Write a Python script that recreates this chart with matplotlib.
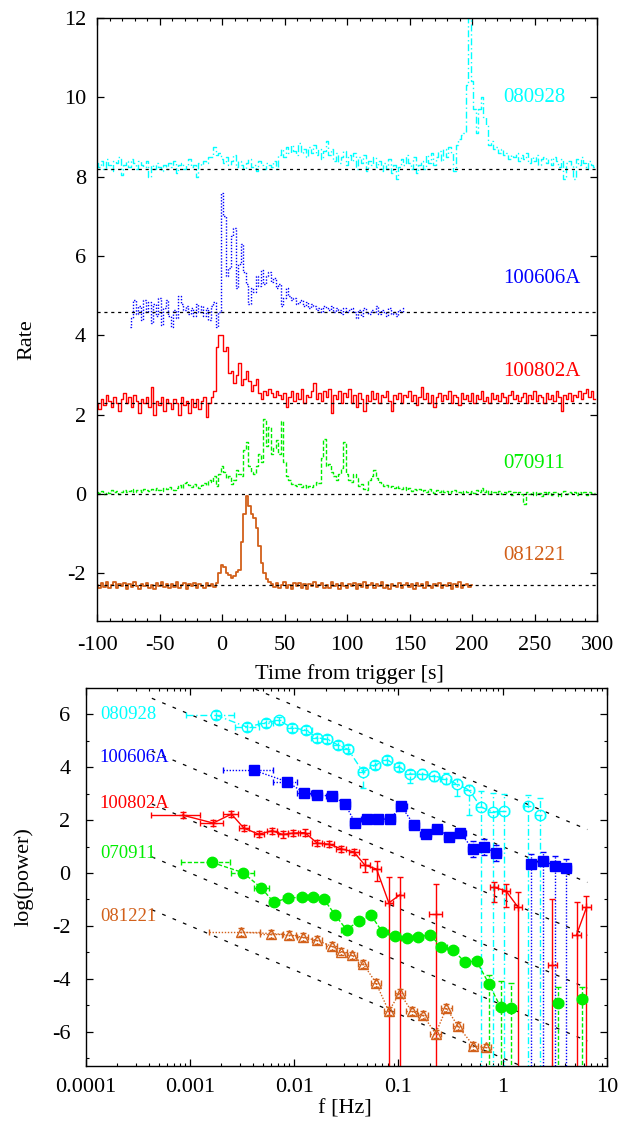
import numpy as np
import matplotlib
matplotlib.use("Agg")
import matplotlib.pyplot as plt
from matplotlib.ticker import MultipleLocator, FixedLocator, FixedFormatter, LogLocator, NullFormatter

plt.rcParams['font.family'] = ['Liberation Serif', 'DejaVu Serif']
plt.rcParams['axes.unicode_minus'] = False
plt.rcParams['font.size'] = 16
plt.rcParams['axes.linewidth'] = 1.0

# ================= light curves (rate vs time, 2 s bins) =================
grb_names = ["080928", "100606A", "100802A", "070911", "081221"]
grb_colors = ["#00ffff", "#0000ff", "#ff0000", "#00ee00", "#d2601a"]
baselines = [8.2, 4.6, 2.3, 0.0, -2.3]
label_y_top = [10.0, 5.43, 3.1, 0.78, -1.56]

t0_080928 = -100
rate_080928 = [
    8.35, 8.25, 8.4, 8.2, 8.45, 8.3, 8.15, 8.4, 8.35, 8.5,
    8.05, 8.3, 8.4, 8.25, 8.45, 8.35, 8.2, 8.4, 8.3, 8.25,
    8.4, 8.0, 8.3, 8.2, 8.35, 8.25, 8.15, 8.3, 8.2, 8.35,
    8.25, 8.4, 8.1, 8.3, 8.35, 8.2, 8.3, 8.45, 8.25, 8.3,
    8.0, 8.35, 8.3, 8.4, 8.35, 8.5, 8.5, 8.75, 8.55, 8.6,
    8.45, 8.35, 8.5, 8.3, 8.4, 8.55, 8.25, 8.4, 8.3, 8.2,
    8.35, 8.45, 8.25, 8.3, 8.15, 8.4, 8.3, 8.2, 8.35, 8.3,
    8.25, 8.4, 8.2, 8.55, 8.7, 8.5, 8.75, 8.6, 8.8, 8.65,
    8.55, 8.85, 8.6, 8.7, 8.5, 8.75, 8.6, 8.8, 8.55, 8.7,
    8.45, 8.65, 8.9, 8.55, 8.7, 8.4, 8.6, 8.35, 8.5, 8.65,
    8.3, 8.55, 8.4, 8.6, 8.2, 8.5, 8.35, 8.55, 8.15, 8.4,
    8.3, 8.5, 8.25, 8.4, 8.15, 8.35, 8.2, 8.45, 8.1, 8.3,
    7.95, 8.25, 8.45, 8.3, 8.55, 8.35, 8.2, 8.5, 8.1, 8.3,
    8.4, 8.2, 8.55, 8.35, 8.6, 8.3, 8.5, 8.65, 8.4, 8.7,
    8.5, 8.75, 8.6, 8.15, 8.8, 8.95, 9.05, 9.1, 10.3, 12.0,
    10.4, 9.7, 9.1, 9.7, 10.0, 9.5, 9.3, 8.8, 8.9, 8.7,
    8.75, 8.6, 8.7, 8.55, 8.6, 8.45, 8.55, 8.5, 8.6, 8.4,
    8.55, 8.45, 8.6, 8.35, 8.5, 8.4, 8.55, 8.3, 8.45, 8.5,
    8.35, 8.45, 8.3, 8.5, 8.4, 8.25, 8.45, 7.95, 8.35, 8.4,
    8.3, 7.95, 8.45, 8.3, 8.5, 8.35, 8.2, 8.4, 8.3, 8.25,
]

t0_100606A = -74
rate_100606A = [
    4.2, 4.45, 4.9, 4.55, 4.75, 4.4, 4.9, 4.6, 4.85, 4.3,
    4.8, 4.5, 4.95, 4.25, 4.7, 4.9, 4.5, 4.2, 4.65, 4.45,
    5.0, 4.8, 4.65, 4.75, 4.55, 4.7, 4.5, 4.8, 4.6, 4.75,
    4.5, 4.7, 4.4, 4.75, 4.85, 4.2, 4.6, 7.6, 7.0, 5.5,
    5.7, 6.5, 6.7, 5.2, 5.8, 6.3, 5.6, 5.3, 4.8, 5.2,
    5.1, 5.5, 5.25, 5.65, 5.3, 5.5, 5.6, 5.35, 5.45, 5.2,
    5.3, 4.75, 4.95, 5.2, 5.0, 4.9, 4.95, 4.8, 4.85, 4.9,
    4.75, 4.85, 4.7, 4.8, 4.75, 4.65, 4.7, 4.6, 4.75, 4.7,
    4.65, 4.75, 4.6, 4.7, 4.65, 4.55, 4.7, 4.6, 4.65, 4.7,
    4.6, 4.45, 4.65, 4.5, 4.7, 4.6, 4.55, 4.65, 4.6, 4.75,
    4.55, 4.65, 4.6, 4.5, 4.7, 4.55, 4.6, 4.5, 4.65, 4.6, 4.7,
]

t0_100802A = -100
rate_100802A = [
    2.3, 2.15, 2.4, 2.25, 2.5, 2.35, 2.2, 2.45, 2.3, 2.1,
    2.4, 2.55, 2.3, 2.45, 2.2, 2.5, 2.35, 2.05, 2.4, 2.3,
    2.45, 2.2, 2.7, 2.0, 2.35, 2.25, 2.45, 2.1, 2.4, 2.3,
    2.15, 2.4, 2.3, 2.0, 2.45, 2.25, 2.35, 2.05, 2.4, 2.2,
    2.4, 2.15, 2.35, 2.45, 1.95, 2.3, 2.45, 2.6, 3.7, 4.0,
    4.0, 3.6, 3.7, 3.05, 3.1, 2.8, 3.0, 3.3, 2.75, 2.9,
    3.1, 2.85, 2.6, 2.75, 2.9, 2.55, 2.4, 2.6, 2.5, 2.65,
    2.55, 2.45, 2.6, 2.5, 2.4, 2.55, 2.2, 2.45, 2.6, 2.35,
    2.55, 2.4, 2.65, 2.3, 2.5, 2.45, 2.6, 2.8, 2.4, 2.55,
    2.35, 2.6, 2.45, 2.65, 2.05, 2.5, 2.4, 2.6, 2.3, 2.55,
    2.45, 2.65, 2.3, 2.5, 2.2, 2.55, 2.4, 2.1, 2.5, 2.35,
    2.6, 2.4, 2.55, 2.3, 2.5, 2.45, 2.6, 2.35, 2.1, 2.5,
    2.4, 2.55, 2.3, 2.5, 2.45, 2.6, 2.35, 2.5, 2.25, 2.45,
    2.7, 2.4, 2.55, 2.3, 2.5, 2.2, 2.45, 2.55, 2.35, 2.5,
    2.4, 2.6, 2.3, 2.5, 2.45, 2.25, 2.55, 2.4, 2.5, 2.35,
    2.55, 2.3, 2.5, 2.4, 2.6, 2.35, 2.45, 2.3, 2.55, 2.4,
    2.5, 2.35, 2.55, 2.45, 2.3, 2.5, 2.6, 2.4, 2.5, 2.35,
    2.45, 2.55, 2.3, 2.5, 2.4, 2.6, 2.35, 2.5, 2.45, 2.3,
    2.55, 2.4, 2.5, 2.35, 2.6, 2.45, 2.1, 2.5, 2.4, 2.55,
    2.35, 2.5, 2.45, 2.6, 2.4, 2.55, 2.65, 2.45, 2.6, 2.4,
]

t0_070911 = -100
rate_070911 = [
    0.05, 0.02, 0.08, 0.0, 0.06, 0.03, 0.09, 0.04, 0.07, 0.01,
    0.06, 0.1, 0.04, 0.08, 0.12, 0.05, 0.09, 0.11, 0.06, 0.13,
    0.1, 0.07, 0.12, 0.09, 0.15, 0.11, 0.08, 0.14, 0.12, 0.17,
    0.13, 0.1, 0.16, 0.22, 0.15, 0.28, 0.3, 0.22, 0.18, 0.25,
    0.2, 0.16, 0.24, 0.28, 0.22, 0.35, 0.3, 0.45, 0.2, 0.5,
    0.7, 0.55, 0.4, 0.45, 0.25, 0.35, 0.6, 0.5, 0.45, 1.1,
    1.3, 0.7, 0.55, 0.5, 0.7, 1.0, 0.8, 1.9, 1.2, 1.7,
    1.0, 1.15, 1.35, 1.0, 1.85, 0.8, 0.45, 0.35, 0.25, 0.22,
    0.2, 0.25, 0.18, 0.22, 0.15, 0.2, 0.18, 0.24, 0.3, 0.28,
    0.9, 1.4, 0.7, 0.75, 0.55, 0.45, 0.35, 0.5, 0.65, 1.3,
    0.5, 0.35, 0.3, 0.5, 0.4, 0.2, 0.25, 0.12, 0.1, 0.35,
    0.45, 0.6, 0.4, 0.3, 0.25, 0.2, 0.22, 0.18, 0.2, 0.15,
    0.2, 0.15, 0.12, 0.18, 0.1, 0.14, 0.08, 0.12, 0.1, 0.13,
    0.07, 0.1, 0.05, 0.12, 0.08, 0.03, 0.1, 0.06, 0.09, 0.04,
    0.08, 0.02, 0.07, 0.1, 0.04, 0.06, 0.0, 0.08, 0.05, 0.03,
    0.07, 0.02, 0.09, 0.04, 0.15, 0.06, 0.1, 0.01, 0.08, 0.05,
    0.02, 0.07, 0.0, 0.06, 0.03, 0.08, -0.02, 0.05, 0.02, 0.06,
    0.01, -0.25, 0.04, 0.0, 0.06, -0.03, 0.05, 0.02, -0.05, 0.04,
    0.0, 0.05, -0.03, 0.06, 0.02, -0.04, 0.03, 0.07, 0.0, 0.04,
    0.02, 0.06, -0.02, 0.05, 0.01, 0.04, -0.03, 0.06, 0.02, 0.03,
]

t0_081221 = -100
rate_081221 = [
    -2.3, -2.38, -2.24, -2.34, -2.22, -2.37, -2.29, -2.21, -2.36, -2.27,
    -2.33, -2.23, -2.39, -2.28, -2.35, -2.22, -2.31, -2.4, -2.26, -2.32,
    -2.24, -2.36, -2.29, -2.4, -2.25, -2.33, -2.21, -2.35, -2.28, -2.38,
    -2.27, -2.34, -2.22, -2.37, -2.3, -2.25, -2.39, -2.28, -2.33, -2.23,
    -2.36, -2.26, -2.32, -2.38, -2.24, -2.33, -2.27, -2.35, -2.25, -2.0,
    -1.8, -1.85, -1.98, -2.05, -2.12, -2.06, -1.97, -1.92, -1.2, -0.5,
    -0.05, -0.3, -0.5, -0.6, -0.85, -1.3, -1.75, -2.0, -2.15, -2.22,
    -2.26, -2.34, -2.24, -2.37, -2.29, -2.22, -2.36, -2.3, -2.39, -2.25,
    -2.33, -2.23, -2.37, -2.28, -2.4, -2.26, -2.32, -2.21, -2.35, -2.3,
    -2.24, -2.36, -2.29, -2.38, -2.22, -2.33, -2.27, -2.4, -2.25, -2.31,
    -2.37, -2.26, -2.32, -2.23, -2.39, -2.28, -2.34, -2.22, -2.36, -2.3,
    -2.25, -2.38, -2.27, -2.33, -2.21, -2.36, -2.3, -2.4, -2.26, -2.32,
    -2.35, -2.24, -2.37, -2.29, -2.23, -2.34, -2.28, -2.39, -2.25, -2.31,
    -2.27, -2.36, -2.22, -2.33, -2.38, -2.26, -2.31, -2.24, -2.37, -2.29,
    -2.32, -2.25, -2.39, -2.28, -2.34, -2.22, -2.36, -2.3, -2.27, -2.35,
    -2.3,
]
bin_width = 2.0

# ================= power spectra =================
BOT = 20.0  # error bar reaching below the frame

f_080928 = [0.00177, 0.00353, 0.00531, 0.00711, 0.00955, 0.0131, 0.0164, 0.0207, 0.0264, 0.0329,
            0.0458, 0.0594, 0.078, 0.101, 0.129, 0.169, 0.219, 0.283, 0.366, 0.476,
            0.618, 0.80, 1.03, 1.76, 2.28]
p_080928 = [5.97, 5.52, 5.69, 5.77, 5.50, 5.40, 5.12, 5.06, 4.84, 4.68,
            3.82, 4.08, 4.28, 4.02, 3.74, 3.74, 3.67, 3.57, 3.36, 3.14,
            2.50, 2.31, 2.33, 2.52, 2.19]
xlo_080928 = [0.29, 0.115, 0.07, 0.05, 0.05, 0.05, 0.05, 0.05, 0.05, 0.05, 0.05, 0.05, 0.05,
              0.05, 0.05, 0.05, 0.05, 0.05, 0.05, 0.05, 0.045, 0.045, 0.045, 0.045, 0.045]
xhi_080928 = [0.17, 0.115, 0.07, 0.05, 0.05, 0.05, 0.05, 0.05, 0.05, 0.05, 0.05, 0.05, 0.05,
              0.05, 0.05, 0.05, 0.05, 0.05, 0.05, 0.05, 0.045, 0.045, 0.045, 0.045, 0.045]
ylo_080928 = [0.15, 0.15, 0.15, 0.15, 0.15, 0.15, 0.15, 0.15, 0.15, 0.15,
              0.59, 0.15, 0.15, 0.15, 0.34, 0.2, 0.2, 0.2, 0.44, 0.95,
              BOT, BOT, BOT, BOT, BOT]
yhi_080928 = [0.15, 0.15, 0.15, 0.15, 0.15, 0.15, 0.15, 0.15, 0.15, 0.15,
              0.15, 0.15, 0.15, 0.15, 0.15, 0.2, 0.2, 0.2, 0.2, 0.2,
              0.6, 0.71, 0.65, 0.42, 0.63]
breaks_080928 = [23, 24]

f_100606A = [0.00409, 0.00843, 0.01245, 0.0166, 0.0228, 0.0306, 0.0382, 0.0494, 0.0631, 0.0826,
             0.107, 0.1416, 0.182, 0.2355, 0.305, 0.394, 0.514, 0.664, 0.861, 1.89,
             2.45, 3.17, 4.10]
p_100606A = [3.89, 3.46, 3.04, 2.94, 2.92, 2.63, 1.91, 2.06, 2.04, 2.04,
             2.52, 1.81, 1.47, 1.66, 1.38, 1.53, 0.91, 0.99, 0.75, 0.34,
             0.46, 0.28, 0.18]
xlo_100606A = [0.295, 0.13, 0.07, 0.05, 0.05, 0.05, 0.05, 0.05, 0.05, 0.05, 0.05, 0.05,
               0.05, 0.05, 0.05, 0.05, 0.045, 0.045, 0.045, 0.045, 0.045, 0.045, 0.045]
xhi_100606A = [0.18, 0.10, 0.07, 0.05, 0.05, 0.05, 0.05, 0.05, 0.05, 0.05, 0.05, 0.05,
               0.05, 0.05, 0.05, 0.05, 0.045, 0.045, 0.045, 0.045, 0.045, 0.045, 0.045]
ylo_100606A = [0.15, 0.15, 0.15, 0.15, 0.15, 0.15, 0.15, 0.15, 0.15, 0.15, 0.15, 0.15,
               0.15, 0.15, 0.15, 0.15, 0.3, 0.3, 0.3, BOT, BOT, BOT, BOT]
yhi_100606A = [0.15, 0.15, 0.15, 0.15, 0.15, 0.15, 0.15, 0.15, 0.15, 0.15, 0.15, 0.15,
               0.15, 0.15, 0.15, 0.15, 0.3, 0.3, 0.3, 0.38, 0.35, 0.35, 0.35]
breaks_100606A = [19]

f_100802A = [0.000847, 0.001667, 0.0025, 0.00328, 0.00457, 0.00614, 0.00773, 0.00977, 0.01265, 0.0166,
             0.0216, 0.0284, 0.0373, 0.0476, 0.0617, 0.0809, 0.103, 0.227, 0.822, 1.074,
             1.41, 3.01, 5.12, 6.38]
p_100802A = [2.19, 1.89, 2.23, 1.70, 1.47, 1.60, 1.46, 1.51, 1.53, 1.13,
             1.09, 0.91, 0.80, 0.30, 0.15, -1.13, -0.83, -1.55, -0.54, -0.67,
             -1.30, -3.47, -2.34, -1.30]
xlo_100802A = [0.30, 0.128, 0.08, 0.048, 0.048, 0.048, 0.048, 0.048, 0.048, 0.048, 0.048, 0.048,
               0.048, 0.045, 0.045, 0.04, 0.04, 0.064, 0.04, 0.04, 0.04, 0.04, 0.04, 0.04]
xhi_100802A = [0.165, 0.096, 0.063, 0.048, 0.048, 0.048, 0.048, 0.048, 0.048, 0.048, 0.048, 0.048,
               0.048, 0.045, 0.045, 0.04, 0.04, 0.064, 0.04, 0.04, 0.04, 0.04, 0.04, 0.04]
ylo_100802A = [0.12, 0.12, 0.12, 0.12, 0.12, 0.12, 0.12, 0.12, 0.12, 0.12, 0.12, 0.12,
               0.12, 0.27, 0.44, BOT, BOT, BOT, 0.56, 0.63, BOT, BOT, BOT, BOT]
yhi_100802A = [0.12, 0.12, 0.12, 0.12, 0.12, 0.12, 0.12, 0.12, 0.12, 0.12, 0.12, 0.12,
               0.12, 0.23, 0.3, 0.97, 0.67, 1.13, 0.21, 0.25, 0.6, 2.47, 1.24, 0.42]
breaks_100802A = [17, 18, 21, 22]

f_070911 = [0.00163, 0.00324, 0.00485, 0.00637, 0.00875, 0.0119, 0.0152, 0.0192, 0.0245, 0.0318,
            0.042, 0.0543, 0.0703, 0.0923, 0.1197, 0.155, 0.2, 0.259, 0.335, 0.4335,
            0.562, 0.738, 0.955, 1.216, 3.40, 5.78]
p_070911 = [0.40, 0.01, -0.57, -1.11, -0.94, -0.92, -0.92, -0.98, -1.57, -2.15,
            -1.80, -1.58, -2.24, -2.37, -2.45, -2.43, -2.33, -2.80, -2.91, -3.37,
            -3.33, -4.19, -5.07, -5.11, -4.91, -4.78]
xlo_070911 = [0.30, 0.12, 0.07, 0.05, 0.05, 0.05, 0.05, 0.05, 0.05, 0.05, 0.05, 0.05, 0.05,
              0.05, 0.05, 0.05, 0.05, 0.05, 0.05, 0.045, 0.045, 0.045, 0.045, 0.045, 0.045, 0.045]
xhi_070911 = [0.17, 0.10, 0.07, 0.05, 0.05, 0.05, 0.05, 0.05, 0.05, 0.05, 0.05, 0.05, 0.05,
              0.05, 0.05, 0.05, 0.05, 0.05, 0.05, 0.045, 0.045, 0.045, 0.045, 0.045, 0.045, 0.045]
ylo_070911 = [0.12, 0.12, 0.12, 0.12, 0.12, 0.12, 0.12, 0.12, 0.12, 0.12, 0.12, 0.12, 0.12,
              0.12, 0.12, 0.12, 0.12, 0.12, 0.12, 0.12, 0.12, BOT, BOT, BOT, BOT, BOT]
yhi_070911 = [0.12, 0.12, 0.12, 0.12, 0.12, 0.12, 0.12, 0.12, 0.12, 0.12, 0.12, 0.12, 0.12,
              0.12, 0.12, 0.12, 0.12, 0.12, 0.12, 0.12, 0.12, 0.34, 0.97, 0.96, 0.6, 0.47]
breaks_070911 = [24, 25]

f_081221 = [0.003076, 0.00605, 0.00893, 0.01202, 0.0166, 0.0228, 0.0284, 0.036, 0.0458, 0.0607,
            0.0809, 0.103, 0.1337, 0.1726, 0.227, 0.289, 0.374, 0.525, 0.692]
p_081221 = [-2.24, -2.29, -2.34, -2.43, -2.55, -2.77, -2.97, -3.12, -3.43, -4.15,
            -5.23, -4.53, -5.23, -5.38, -6.08, -5.11, -5.80, -6.53, -6.60]
xlo_081221 = [0.31, 0.11, 0.07, 0.05, 0.05, 0.05, 0.05, 0.05, 0.05, 0.05,
              0.05, 0.05, 0.05, 0.05, 0.05, 0.05, 0.05, 0.045, 0.045]
xhi_081221 = [0.18, 0.11, 0.07, 0.05, 0.05, 0.05, 0.05, 0.05, 0.05, 0.05,
              0.05, 0.05, 0.05, 0.05, 0.05, 0.05, 0.05, 0.045, 0.045]
ylo_081221 = [0.15] * 19
yhi_081221 = [0.15] * 19
breaks_081221 = []

label_y_bottom = [6.0, 4.38, 2.64, 0.75, -1.66]

# f^-5/3 guide lines: log(power) = offset - 5/3 log(f)
guide_offsets = [3, 1, -1, -3, -5, -7]
guide_slope = -5.0 / 3.0
guide_f = [4.3e-4, 6.5]

# ==================================================================
fig = plt.figure(figsize=(6.22, 11.26), dpi=100)
ax1 = fig.add_axes([0.156, 0.4485, 0.804, 0.5355])
ax2 = fig.add_axes([0.138, 0.0533, 0.8376, 0.3357])

# ---- top: light curves ----
curves = [(t0_080928, rate_080928, (0, (5, 2, 1, 2)), 1.0),
          (t0_100606A, rate_100606A, (0, (1, 1.2)), 1.0),
          (t0_100802A, rate_100802A, '-', 1.0),
          (t0_070911, rate_070911, (0, (3, 1.5)), 1.0),
          (t0_081221, rate_081221, '-', 1.3)]
for (t0, rate, ls, lw), col in zip(curves, grb_colors):
    t = t0 + bin_width * np.arange(len(rate))
    ax1.plot(t, rate, drawstyle='steps-mid', color=col, ls=ls, lw=lw)

for b in baselines:
    ax1.axhline(b, color='k', ls=(0, (2.5, 3)), lw=0.9, zorder=3)

for name, col, y in zip(grb_names, grb_colors, label_y_top):
    ax1.text(225, y, name, color=col, fontsize=15, va='center', ha='left')

ax1.set_xlim(-100, 300)
ax1.set_ylim(-3.2, 12)
ax1.xaxis.set_major_locator(MultipleLocator(50))
ax1.xaxis.set_minor_locator(MultipleLocator(10))
ax1.yaxis.set_major_locator(FixedLocator([-2, 0, 2, 4, 6, 8, 10, 12]))
ax1.tick_params(which='both', direction='in', top=True, right=True)
ax1.tick_params(which='major', length=5, width=0.9)
ax1.tick_params(which='minor', length=2.5, width=0.8)
ax1.tick_params(axis='x', pad=11)
ax1.tick_params(axis='y', pad=8)
ax1.set_xlabel("Time from trigger [s]")
ax1.set_ylabel("Rate")
ax1.xaxis.set_label_coords(0.504, -0.071)
ax1.yaxis.set_label_coords(-0.122, 0.466)

# ---- bottom: power spectra ----
for off in guide_offsets:
    gf = np.array(guide_f)
    ax2.plot(gf, off + guide_slope * np.log10(gf), color='k', ls=(0, (3, 6)), lw=0.9, zorder=1)

spectra = [
    (f_080928, p_080928, xlo_080928, xhi_080928, ylo_080928, yhi_080928, breaks_080928,
     (0, (5, 2, 1, 2)), 'o', 'none'),
    (f_100606A, p_100606A, xlo_100606A, xhi_100606A, ylo_100606A, yhi_100606A, breaks_100606A,
     (0, (1, 1.2)), 's', 'fill'),
    (f_100802A, p_100802A, xlo_100802A, xhi_100802A, ylo_100802A, yhi_100802A, breaks_100802A,
     '-', '+', 'fill'),
    (f_070911, p_070911, xlo_070911, xhi_070911, ylo_070911, yhi_070911, breaks_070911,
     (0, (3, 1.5)), 'o', 'fill'),
    (f_081221, p_081221, xlo_081221, xhi_081221, ylo_081221, yhi_081221, breaks_081221,
     (0, (1, 1.2)), '^', 'none'),
]
for (f, p, xlo, xhi, ylo, yhi, brk, ls, mk, fill), col in zip(spectra, grb_colors):
    f = np.array(f)
    p = np.array(p)
    xe = [f - f * 10 ** (-np.array(xlo)), f * 10 ** np.array(xhi) - f]
    ye = [np.array(ylo), np.array(yhi)]
    eb = ax2.errorbar(f, p, xerr=xe, yerr=ye, fmt='none', ecolor=col, elinewidth=1.0,
                      capsize=2.5, capthick=1.0, zorder=2)
    for lc in eb[2]:
        lc.set_linestyle(ls)
    fl = np.insert(f, brk, np.nan) if brk else f
    pl = np.insert(p, brk, np.nan) if brk else p
    ax2.plot(fl, pl, color=col, ls=ls, lw=1.0, zorder=2)
    mfc = col if fill == 'fill' else 'none'
    ms = 7.5 if mk != '+' else 6
    ax2.plot(f, p, ls='none', marker=mk, ms=ms, mfc=mfc, mec=col, mew=1.0, zorder=3)

for name, col, y in zip(grb_names, grb_colors, label_y_bottom):
    ax2.text(1.36e-4, y, name, color=col, fontsize=13.5, va='center', ha='left')

ax2.set_xscale('log')
ax2.set_xlim(1e-4, 10)
ax2.set_ylim(-7.3, 7)
ax2.xaxis.set_major_locator(FixedLocator([1e-4, 1e-3, 1e-2, 1e-1, 1, 10]))
ax2.xaxis.set_major_formatter(FixedFormatter(["0.0001", "0.001", "0.01", "0.1", "1", "10"]))
ax2.xaxis.set_minor_locator(LogLocator(base=10, subs=np.arange(2, 10), numticks=20))
ax2.xaxis.set_minor_formatter(NullFormatter())
ax2.yaxis.set_major_locator(MultipleLocator(2))
ax2.yaxis.set_minor_locator(MultipleLocator(1))
ax2.tick_params(which='both', direction='in', top=True, right=True)
ax2.tick_params(which='major', length=5, width=0.9)
ax2.tick_params(which='minor', length=2.5, width=0.8)
ax2.tick_params(axis='x', pad=9)
ax2.tick_params(axis='y', pad=11)
ax2.set_xlabel("f [Hz]")
ax2.set_ylabel("log(power)")
ax2.xaxis.set_label_coords(0.497, -0.088)
ax2.yaxis.set_label_coords(-0.100, 0.5)

plt.savefig("out.png", dpi=100)
